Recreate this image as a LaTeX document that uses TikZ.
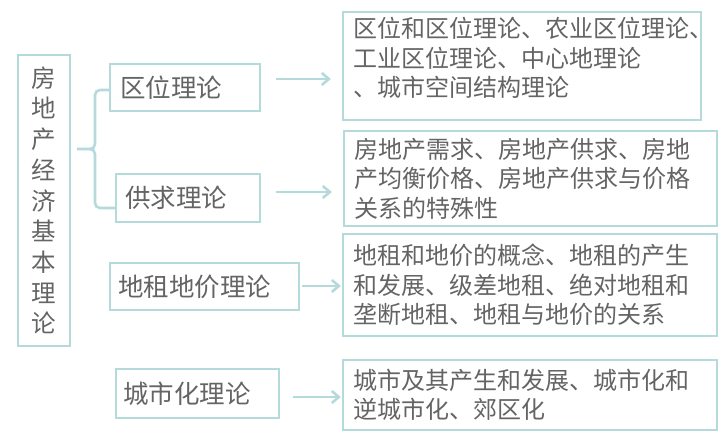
\documentclass[tikz,border=0pt]{standalone}
\usepackage{fontspec}
\setmainfont{Noto Sans CJK SC}
\usetikzlibrary{arrows.meta}
\definecolor{boxline}{RGB}{180,218,220}
\definecolor{txtgray}{RGB}{100,100,100}
\begin{document}
\begin{tikzpicture}[x=1pt, y=-1pt,
    box/.style={draw=boxline, line width=2.4pt, text=txtgray, inner ysep=0pt},
    sub/.style={box, align=left, font=\fontsize{25.5}{30}\selectfont},
    desc/.style={box, align=left, inner xsep=10pt, font=\fontsize{24}{29.5}\selectfont},
    arr/.style={draw=boxline, line width=2.6pt, -{Straight Barb[length=7pt, width=12pt]}}]
    \useasboundingbox (0,0) rectangle (728,447);
    % Main title
    \node[box, align=center, minimum width=52pt, minimum height=291pt,
      font=\fontsize{24.5}{30.7}\selectfont] (main) at (44,200.5)
      {房\\地\\产\\经\\济\\基\\本\\理\\论};
    % Left column
    \node[sub, inner xsep=10pt, text width=130pt, minimum height=47pt] (qw) at (185,87.5) {区位理论};
    \node[sub, inner xsep=9pt, text width=126pt, minimum height=48pt] (gq) at (188,198) {供求理论};
    \node[sub, inner xsep=8pt, text width=173pt, minimum height=47pt] (dz) at (204.5,286.5) {地租地价理论};
    \node[sub, inner xsep=7pt, text width=149pt, minimum height=49pt] (cs) at (197.5,393.5) {城市化理论};
    % Right column
    \node[desc, text width=338pt, minimum height=108pt] (r1) at (522,66)
      {区位和区位理论、农业区位理论、\\工业区位理论、中心地理论\\、城市空间结构理论\rule[-18pt]{0pt}{18pt}};
    \node[desc, text width=353pt, minimum height=95pt] (r2) at (530.5,178.5)
      {房地产需求、房地产供求、房地\\产均衡价格、房地产供求与价格\\关系的特殊性};
    \node[desc, text width=354pt, minimum height=102pt] (r3) at (530,285)
      {地租和地价的概念、地租的产生\\和发展、级差地租、绝对地租和\\垄断地租、地租与地价的关系};
    \node[desc, text width=354pt, minimum height=70pt] (r4) at (530,395)
      {城市及其产生和发展、城市化和\\逆城市化、郊区化};
    % Brace
    \draw[boxline, line width=2.6pt] (qw.west |- 0,90) -- (100,90) to[out=180, in=90] (95,95)
      -- (95,144) to[out=-90, in=0] (90,149) -- (77,149);
    \draw[boxline, line width=2.6pt] (90,149) to[out=0, in=90] (95,154) -- (95,203)
      to[out=-90, in=180] (100,208) -- (gq.west |- 0,208);
    % Arrows
    \coordinate (a1) at ([yshift=8.5pt]qw.east);
    \coordinate (a2) at ([yshift=6pt]gq.east);
    \coordinate (a3) at ([yshift=0.5pt]dz.east);
    \coordinate (a4) at ([yshift=-3.5pt]cs.east);
    \draw[arr, shorten <=15pt, shorten >=11pt] (a1) -- (a1 -| r1.west);
    \draw[arr, shorten <=15pt, shorten >=11pt] (a2) -- (a2 -| r2.west);
    \draw[arr, shorten <=2pt, shorten >=1pt] (a3) -- (a3 -| r3.west);
    \draw[arr, shorten <=13pt, shorten >=1pt] (a4) -- (a4 -| r4.west);
  \end{tikzpicture}
\end{document}
